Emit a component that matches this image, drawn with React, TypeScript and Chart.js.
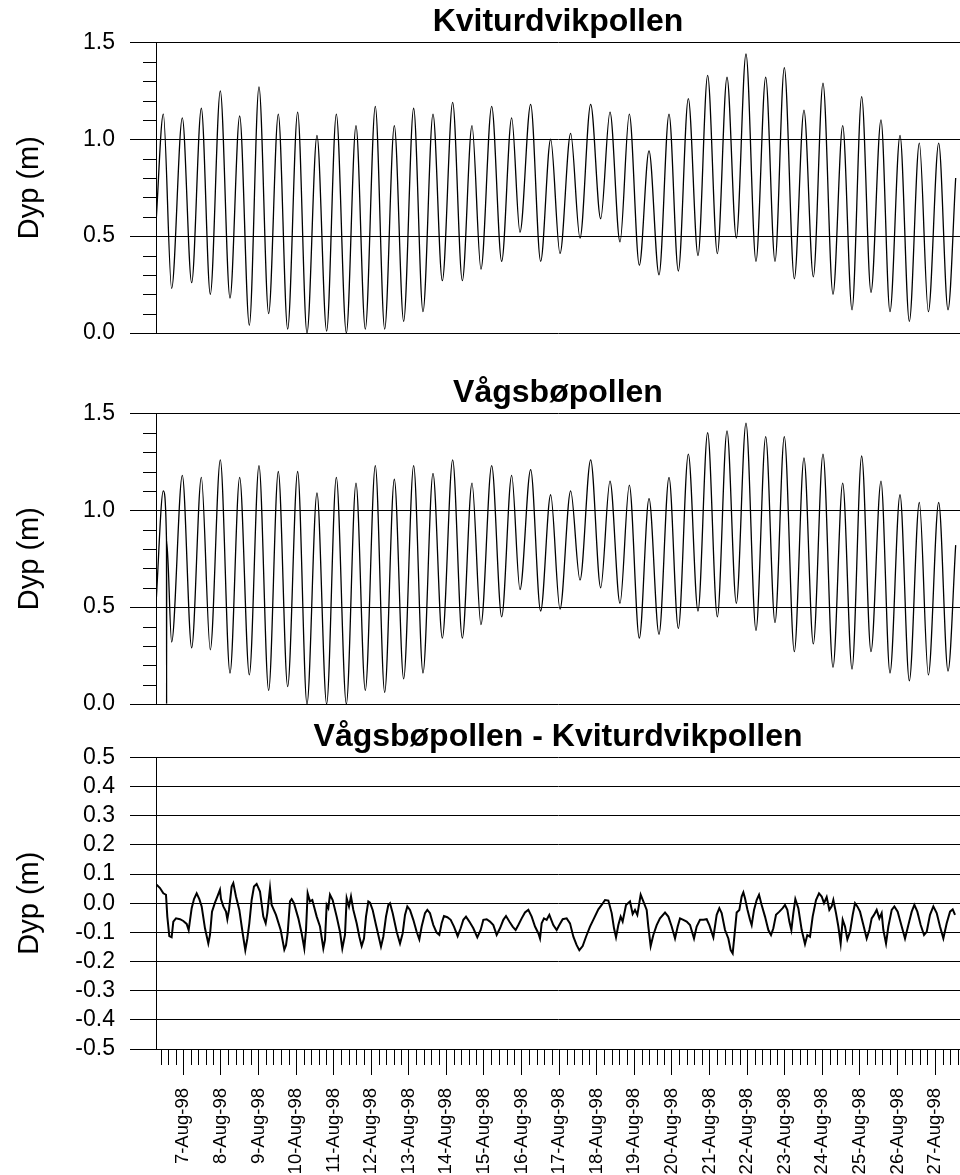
import React, { useEffect, useRef } from 'react';
import { Chart, registerables } from 'chart.js';

Chart.register(...registerables);

// ---- Data (time in decimal day of August 1998) ----
const KV_TIME = [6.275, 6.469, 6.69, 6.974, 7.223, 7.48, 7.719, 7.985, 8.243, 8.5, 8.757, 9.014, 9.271, 9.528, 9.777, 10.043, 10.291, 10.557, 10.814, 11.072, 11.338, 11.595, 11.843, 12.109, 12.358, 12.615, 12.863, 13.129, 13.378, 13.644, 13.892, 14.167, 14.424, 14.681, 14.92, 15.205, 15.471, 15.737, 15.958, 16.242, 16.508, 16.774, 17.023, 17.306, 17.555, 17.839, 18.105, 18.353, 18.619, 18.867, 19.133, 19.391, 19.657, 19.923, 20.171, 20.437, 20.694, 20.951, 21.209, 21.466, 21.714, 21.971, 22.237, 22.495, 22.743, 22.991, 23.257, 23.514, 23.763, 24.02, 24.286, 24.544, 24.792, 25.049, 25.297, 25.563, 25.802, 26.069, 26.317, 26.583, 26.823, 27.098, 27.346, 27.55];
const KV_DEPTH = [0.57, 1.13, 0.23, 1.11, 0.26, 1.16, 0.20, 1.25, 0.18, 1.12, 0.04, 1.27, 0.10, 1.13, 0.02, 1.14, 0.00, 1.02, 0.01, 1.13, 0.00, 1.07, 0.02, 1.17, 0.02, 1.07, 0.06, 1.16, 0.11, 1.13, 0.27, 1.19, 0.27, 1.07, 0.33, 1.17, 0.37, 1.11, 0.52, 1.18, 0.37, 1.00, 0.41, 1.03, 0.49, 1.18, 0.59, 1.14, 0.47, 1.13, 0.35, 0.94, 0.30, 1.13, 0.32, 1.21, 0.40, 1.33, 0.41, 1.32, 0.49, 1.44, 0.37, 1.32, 0.37, 1.37, 0.28, 1.15, 0.29, 1.29, 0.20, 1.07, 0.12, 1.22, 0.21, 1.10, 0.11, 1.02, 0.06, 0.98, 0.11, 0.98, 0.12, 0.80];

const VB_TIME = [6.275, 6.469, 6.553, 6.556, 6.559, 6.69, 6.974, 7.223, 7.48, 7.719, 7.985, 8.243, 8.5, 8.757, 9.014, 9.271, 9.528, 9.777, 10.043, 10.291, 10.557, 10.814, 11.072, 11.338, 11.595, 11.843, 12.109, 12.358, 12.615, 12.863, 13.129, 13.378, 13.644, 13.892, 14.167, 14.424, 14.681, 14.92, 15.205, 15.471, 15.737, 15.958, 16.242, 16.508, 16.774, 17.023, 17.306, 17.555, 17.839, 18.105, 18.353, 18.619, 18.867, 19.133, 19.391, 19.657, 19.923, 20.171, 20.437, 20.694, 20.951, 21.209, 21.466, 21.714, 21.971, 22.237, 22.495, 22.743, 22.991, 23.257, 23.514, 23.763, 24.02, 24.286, 24.544, 24.792, 25.049, 25.297, 25.563, 25.802, 26.069, 26.317, 26.583, 26.823, 27.098, 27.346, 27.55];
const VB_DEPTH = [0.52, 1.10, 0.85, 0.00, 0.84, 0.32, 1.18, 0.29, 1.17, 0.28, 1.26, 0.16, 1.17, 0.15, 1.23, 0.07, 1.20, 0.09, 1.20, 0.00, 1.09, 0.00, 1.17, 0.00, 1.14, 0.07, 1.23, 0.06, 1.16, 0.13, 1.23, 0.16, 1.19, 0.34, 1.26, 0.34, 1.14, 0.41, 1.23, 0.45, 1.18, 0.59, 1.21, 0.48, 1.08, 0.49, 1.10, 0.64, 1.26, 0.60, 1.15, 0.52, 1.13, 0.34, 1.06, 0.36, 1.17, 0.39, 1.29, 0.48, 1.40, 0.45, 1.41, 0.52, 1.45, 0.38, 1.38, 0.42, 1.38, 0.27, 1.27, 0.31, 1.29, 0.19, 1.14, 0.18, 1.28, 0.27, 1.15, 0.16, 1.08, 0.12, 1.04, 0.15, 1.04, 0.17, 0.82];

const DIFF_TIME = [6.291, 6.38, 6.469, 6.54, 6.575, 6.628, 6.69, 6.735, 6.806, 6.912, 7.001, 7.09, 7.143, 7.223, 7.285, 7.356, 7.427, 7.489, 7.577, 7.666, 7.71, 7.764, 7.843, 7.914, 7.976, 8.003, 8.065, 8.136, 8.172, 8.216, 8.287, 8.331, 8.402, 8.491, 8.58, 8.65, 8.704, 8.757, 8.819, 8.881, 8.952, 9.041, 9.129, 9.192, 9.236, 9.307, 9.351, 9.466, 9.591, 9.688, 9.733, 9.777, 9.839, 9.883, 9.945, 10.061, 10.149, 10.22, 10.265, 10.309, 10.371, 10.433, 10.549, 10.637, 10.726, 10.77, 10.815, 10.859, 10.903, 10.974, 11.081, 11.169, 11.231, 11.302, 11.347, 11.409, 11.462, 11.524, 11.613, 11.684, 11.746, 11.808, 11.861, 11.923, 11.968, 12.038, 12.127, 12.189, 12.26, 12.322, 12.393, 12.455, 12.5, 12.571, 12.677, 12.766, 12.837, 12.899, 12.961, 13.032, 13.12, 13.209, 13.28, 13.342, 13.431, 13.493, 13.564, 13.653, 13.741, 13.812, 13.874, 13.936, 14.025, 14.114, 14.202, 14.3, 14.38, 14.451, 14.522, 14.611, 14.717, 14.823, 14.912, 14.983, 15.072, 15.16, 15.249, 15.338, 15.426, 15.515, 15.586, 15.675, 15.763, 15.843, 15.914, 16.003, 16.091, 16.18, 16.269, 16.358, 16.446, 16.491, 16.535, 16.597, 16.668, 16.739, 16.845, 16.934, 17.005, 17.094, 17.2, 17.289, 17.378, 17.466, 17.537, 17.626, 17.715, 17.821, 17.927, 18.043, 18.131, 18.22, 18.309, 18.398, 18.46, 18.513, 18.575, 18.637, 18.69, 18.779, 18.885, 18.956, 19.018, 19.08, 19.169, 19.24, 19.329, 19.373, 19.435, 19.506, 19.595, 19.683, 19.817, 19.905, 19.994, 20.083, 20.154, 20.216, 20.304, 20.393, 20.482, 20.588, 20.659, 20.748, 20.837, 20.925, 20.996, 21.103, 21.191, 21.262, 21.324, 21.413, 21.502, 21.564, 21.617, 21.661, 21.723, 21.794, 21.856, 21.901, 21.945, 22.007, 22.078, 22.122, 22.185, 22.255, 22.318, 22.388, 22.477, 22.566, 22.637, 22.699, 22.77, 22.859, 22.947, 23.009, 23.071, 23.125, 23.178, 23.231, 23.284, 23.364, 23.453, 23.541, 23.603, 23.674, 23.745, 23.834, 23.914, 23.985, 24.047, 24.118, 24.189, 24.251, 24.295, 24.366, 24.428, 24.49, 24.544, 24.606, 24.668, 24.739, 24.81, 24.872, 24.934, 25.005, 25.094, 25.182, 25.253, 25.315, 25.377, 25.448, 25.519, 25.581, 25.626, 25.697, 25.759, 25.848, 25.919, 26.007, 26.114, 26.202, 26.291, 26.38, 26.451, 26.53, 26.619, 26.708, 26.779, 26.867, 26.956, 27.045, 27.133, 27.222, 27.311, 27.4, 27.471, 27.533];
const DIFF_VALUE = [0.063, 0.052, 0.034, 0.029, -0.046, -0.113, -0.117, -0.063, -0.052, -0.055, -0.061, -0.071, -0.092, -0.017, 0.014, 0.034, 0.014, -0.011, -0.086, -0.138, -0.109, -0.029, 0.002, 0.025, 0.046, 0.014, -0.011, -0.029, -0.055, -0.023, 0.057, 0.069, 0.023, -0.023, -0.103, -0.161, -0.121, -0.069, 0.011, 0.057, 0.066, 0.04, -0.046, -0.069, -0.034, 0.052, -0.006, -0.04, -0.092, -0.159, -0.144, -0.103, 0.006, 0.014, 0.0, -0.052, -0.103, -0.155, -0.092, 0.034, 0.006, 0.011, -0.046, -0.08, -0.155, -0.126, -0.006, -0.017, 0.029, 0.011, -0.046, -0.098, -0.155, -0.109, 0.017, -0.011, 0.023, -0.023, -0.069, -0.115, -0.147, -0.121, -0.046, 0.006, 0.002, -0.023, -0.075, -0.109, -0.149, -0.115, -0.046, -0.006, 0.0, -0.034, -0.098, -0.138, -0.103, -0.04, -0.011, -0.023, -0.057, -0.098, -0.124, -0.08, -0.034, -0.023, -0.034, -0.075, -0.101, -0.109, -0.069, -0.044, -0.048, -0.057, -0.08, -0.113, -0.086, -0.057, -0.046, -0.063, -0.086, -0.117, -0.092, -0.057, -0.055, -0.063, -0.075, -0.109, -0.086, -0.057, -0.044, -0.063, -0.08, -0.092, -0.075, -0.052, -0.032, -0.023, -0.046, -0.08, -0.103, -0.121, -0.069, -0.052, -0.057, -0.04, -0.075, -0.092, -0.075, -0.055, -0.052, -0.069, -0.115, -0.144, -0.161, -0.147, -0.115, -0.08, -0.052, -0.021, -0.006, 0.011, 0.009, -0.034, -0.086, -0.117, -0.075, -0.046, -0.063, -0.006, 0.006, -0.037, -0.023, -0.04, 0.029, 0.006, -0.023, -0.08, -0.147, -0.109, -0.075, -0.052, -0.032, -0.046, -0.08, -0.121, -0.08, -0.052, -0.057, -0.063, -0.075, -0.121, -0.08, -0.057, -0.057, -0.055, -0.075, -0.117, -0.04, -0.017, -0.034, -0.092, -0.121, -0.161, -0.172, -0.115, -0.032, -0.023, 0.023, 0.037, 0.017, -0.021, -0.057, -0.075, -0.023, 0.011, 0.029, -0.006, -0.046, -0.092, -0.109, -0.086, -0.04, -0.029, -0.017, -0.006, -0.023, -0.063, -0.092, -0.034, 0.014, -0.017, -0.092, -0.14, -0.109, -0.115, -0.046, 0.011, 0.034, 0.023, 0.0, 0.021, -0.023, -0.011, 0.011, -0.034, -0.08, -0.138, -0.057, -0.08, -0.124, -0.098, -0.04, 0.0, -0.011, -0.029, -0.075, -0.121, -0.092, -0.052, -0.04, -0.023, -0.052, -0.034, -0.092, -0.138, -0.08, -0.023, -0.011, -0.029, -0.08, -0.121, -0.075, -0.029, -0.006, -0.029, -0.075, -0.109, -0.098, -0.04, -0.011, -0.034, -0.08, -0.121, -0.069, -0.029, -0.021, -0.04];

const DAY_TICKS = [7, 8, 9, 10, 11, 12, 13, 14, 15, 16, 17, 18, 19, 20, 21, 22, 23, 24, 25, 26, 27];
const DAY_LABELS = ['7-Aug-98', '8-Aug-98', '9-Aug-98', '10-Aug-98', '11-Aug-98', '12-Aug-98', '13-Aug-98', '14-Aug-98', '15-Aug-98', '16-Aug-98', '17-Aug-98', '18-Aug-98', '19-Aug-98', '20-Aug-98', '21-Aug-98', '22-Aug-98', '23-Aug-98', '24-Aug-98', '25-Aug-98', '26-Aug-98', '27-Aug-98'];

const X_MIN = 6.274;
const X_MAX = 27.665;

const FONT = '"Liberation Sans", Arial, Helvetica, sans-serif';

const minorTickPlugin = {
  id: 'minorTicks',
  afterDraw(chart: any, _args: any, opts: any) {
    const ctx = chart.ctx;
    const axes = (opts && opts.axes) || [];
    ctx.save();
    ctx.strokeStyle = '#000';
    ctx.lineWidth = 1;
    for (const a of axes) {
      const s = chart.scales[a.id];
      if (!s) continue;
      const first = Math.ceil(s.min / a.step - 1e-6);
      const last = Math.floor(s.max / a.step + 1e-6);
      for (let k = first; k <= last; k++) {
        if (k % a.every === 0) continue;
        const p = Math.round(s.getPixelForValue(k * a.step));
        ctx.beginPath();
        if (s.isHorizontal()) {
          ctx.moveTo(p + 0.5, s.top);
          ctx.lineTo(p + 0.5, s.top + a.length);
        } else {
          ctx.moveTo(s.right - a.length, p + 0.5);
          ctx.lineTo(s.right, p + 0.5);
        }
        ctx.stroke();
      }
    }
    ctx.restore();
  },
};

function toPoints(xs: number[], ys: number[]) {
  return xs.map((x, i) => ({ x, y: ys[i] }));
}

function yScale(min: number, max: number, step: number) {
  return {
    type: 'linear',
    min,
    max,
    ticks: {
      stepSize: step,
      autoSkip: false,
      padding: 15,
      color: '#000',
      font: { family: FONT, size: 23 },
      callback: (v: number) => (Math.abs(v) < 1e-9 ? '0.0' : Number(v).toFixed(1)),
    },
    grid: { color: '#000', lineWidth: 1, drawTicks: true, tickLength: 26, tickColor: '#000' },
    border: { display: true, color: '#000', width: 1 },
    title: {
      display: true,
      text: 'Dyp (m)',
      color: '#000',
      font: { family: FONT, size: 29 },
      padding: { top: 13, bottom: 0 },
    },
    afterFit: (s: any) => {
      s.width = 156;
      s.paddingTop = 0;
      s.paddingBottom = 0;
    },
  };
}

function titleOpts(text: string) {
  return {
    display: true,
    text,
    fullSize: false,
    color: '#000',
    font: { family: FONT, size: 32, weight: 'bold', lineHeight: 1.2 },
    padding: { top: 3, bottom: 1 },
  };
}

function TidePanel(props: { title: string; xs: number[]; ys: number[]; top: number }) {
  const ref = useRef<HTMLCanvasElement>(null);
  useEffect(() => {
    const chart = new Chart(ref.current as HTMLCanvasElement, {
      type: 'line',
      data: {
        datasets: [
          {
            data: toPoints(props.xs, props.ys),
            borderColor: '#000',
            borderWidth: 1.3,
            pointRadius: 0,
            cubicInterpolationMode: 'monotone',
            fill: false,
          },
        ],
      },
      options: {
        responsive: false,
        animation: false,
        events: [],
        layout: { padding: { left: 0, right: 0, top: 0, bottom: 14 } },
        scales: {
          x: { type: 'linear', min: X_MIN, max: X_MAX, display: false },
          y: yScale(0, 1.5, 0.5),
        },
        plugins: {
          legend: { display: false },
          tooltip: { enabled: false },
          title: titleOpts(props.title),
          minorTicks: { axes: [{ id: 'y', step: 0.1, every: 5, length: 13 }] },
        },
      } as any,
      plugins: [minorTickPlugin],
    });
    return () => chart.destroy();
  }, []);
  return (
    <canvas
      ref={ref}
      width={960}
      height={347}
      style={{ position: 'absolute', left: 0, top: props.top, width: 960, height: 347, display: 'block' }}
    />
  );
}

function DiffPanel(props: { top: number }) {
  const ref = useRef<HTMLCanvasElement>(null);
  useEffect(() => {
    const chart = new Chart(ref.current as HTMLCanvasElement, {
      type: 'line',
      data: {
        datasets: [
          {
            data: toPoints(DIFF_TIME, DIFF_VALUE),
            borderColor: '#000',
            borderWidth: 2,
            pointRadius: 0,
            tension: 0,
            fill: false,
          },
        ],
      },
      options: {
        responsive: false,
        animation: false,
        events: [],
        layout: { padding: { left: 0, right: 0, top: 0, bottom: 0 } },
        scales: {
          x: {
            type: 'linear',
            min: X_MIN,
            max: X_MAX,
            afterBuildTicks: (s: any) => {
              s.ticks = DAY_TICKS.map((v) => ({ value: v }));
            },
            ticks: {
              autoSkip: false,
              minRotation: 90,
              maxRotation: 90,
              padding: 13,
              color: '#000',
              font: { family: FONT, size: 18.5 },
              callback: (_v: number, i: number) => DAY_LABELS[i],
            },
            grid: { drawOnChartArea: false, drawTicks: true, tickLength: 26, color: '#000', tickColor: '#000' },
            border: { display: true, color: '#000', width: 1 },
            afterFit: (s: any) => {
              s.height = 126;
              s.paddingLeft = 0;
              s.paddingRight = 0;
            },
          },
          y: yScale(-0.5, 0.5, 0.1),
        },
        plugins: {
          legend: { display: false },
          tooltip: { enabled: false },
          title: titleOpts('Vågsbøpollen - Kviturdvikpollen'),
          minorTicks: { axes: [{ id: 'x', step: 0.2, every: 5, length: 16 }] },
        },
      } as any,
      plugins: [minorTickPlugin],
    });
    return () => chart.destroy();
  }, []);
  return (
    <canvas
      ref={ref}
      width={960}
      height={460}
      style={{ position: 'absolute', left: 0, top: props.top, width: 960, height: 460, display: 'block' }}
    />
  );
}

export default function App() {
  return (
    <div style={{ position: 'absolute', left: 0, top: 0, width: 960, height: 1175, background: '#fff', overflow: 'hidden' }}>
      <TidePanel title="Kviturdvikpollen" xs={KV_TIME} ys={KV_DEPTH} top={0} />
      <TidePanel title="Vågsbøpollen" xs={VB_TIME} ys={VB_DEPTH} top={371} />
      <DiffPanel top={715} />
    </div>
  );
}
